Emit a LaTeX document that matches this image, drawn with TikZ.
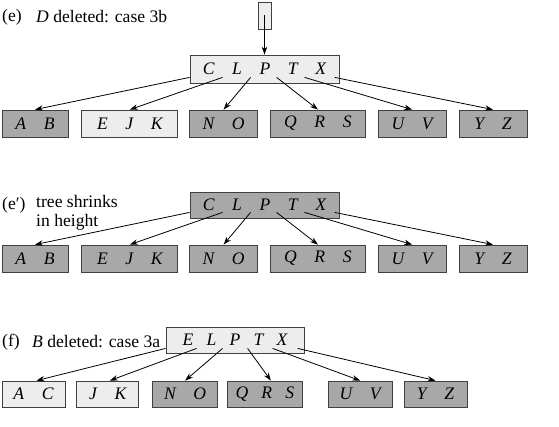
\documentclass[tikz,border=0pt]{standalone}
\usepackage{fontspec}
\setmainfont{Liberation Serif}
\usetikzlibrary{positioning, arrows.meta}
\colorlet{lightkey}{black!7}
\colorlet{darkkey}{black!34}
\tikzset{
  keybox/.style={rectangle, draw=black!75, line width=0.8pt, inner sep=0pt, minimum height=27pt, font=\fontsize{17.6}{19}\selectfont\itshape},
  light/.style={keybox, fill=lightkey},
  dark/.style={keybox, fill=darkkey},
  caption/.style={anchor=west, inner sep=0pt, font=\fontsize{17.6}{19}\selectfont},
  arrow/.style={line width=0.8pt, -{Stealth[length=8pt, width=5.5pt]}}
}

\begin{document}
\begin{tikzpicture}[x=1pt, y=1pt]
\useasboundingbox (0,0) rectangle (559,426);

% (e) D deleted: case 3b
\node (labe) [caption] at (2,409) {(e)};
\node (labetxt) [caption] at (36,409) {\textit{D} deleted: case 3b};
\node (top) [light, minimum width=13pt] at (264.5,410.5) {};
\node (roote) [light, minimum width=149pt, minimum height=28pt] at (264.5,357) {C\quad L\quad P\quad T\quad X};
\node (eab) [dark, minimum width=66pt] at (35,302.5) {A\quad B};
\node (eejk) [light, minimum width=96pt, right=13pt of eab] {E\quad J\quad K};
\node (eno) [dark, minimum width=68pt, right=11pt of eejk] {N\quad O};
\node (eqrs) [dark, minimum width=95pt, right=12pt of eno] {Q\quad R\quad S};
\node (euv) [dark, minimum width=68pt, right=12pt of eqrs] {U\quad V};
\node (eyz) [dark, minimum width=68pt, right=12pt of euv] {Y\quad Z};

\foreach \i/\dx in {1/0, 2/33, 3/61, 4/87, 5/115, 6/145}
  \coordinate (e\i) at ([xshift=\dx pt, yshift=6pt]roote.south west);

\draw [arrow] (top.center) -- (roote);
\draw [arrow] (e1) -- (eab.north);
\draw [arrow] (e2) -- (eejk.north);
\draw [arrow] (e3) -- (eno.north);
\draw [arrow] (e4) -- (eqrs.north);
\draw [arrow] (e5) -- (euv.north);
\draw [arrow] (e6) -- (eyz.north);

% (e') tree shrinks in height
\node (labep) [caption] at (2,221) {(e′)};
\node (labeptxt) [caption, anchor=north west, align=left] at (36,231) {tree shrinks\\in height};
\node (rootep) [dark, minimum width=149pt, minimum height=26pt] at (264.5,221) {C\quad L\quad P\quad T\quad X};
\node (pab) [dark, minimum width=66pt] at (35,167.5) {A\quad B};
\node (pejk) [dark, minimum width=96pt, right=13pt of pab] {E\quad J\quad K};
\node (pno) [dark, minimum width=68pt, right=11pt of pejk] {N\quad O};
\node (pqrs) [dark, minimum width=95pt, right=12pt of pno] {Q\quad R\quad S};
\node (puv) [dark, minimum width=68pt, right=12pt of pqrs] {U\quad V};
\node (pyz) [dark, minimum width=68pt, right=12pt of puv] {Y\quad Z};

\foreach \i/\dx in {1/0, 2/33, 3/61, 4/87, 5/115, 6/145}
  \coordinate (p\i) at ([xshift=\dx pt, yshift=6pt]rootep.south west);

\draw [arrow] (p1) -- (pab.north);
\draw [arrow] (p2) -- (pejk.north);
\draw [arrow] (p3) -- (pno.north);
\draw [arrow] (p4) -- (pqrs.north);
\draw [arrow] (p5) -- (puv.north);
\draw [arrow] (p6) -- (pyz.north);

% (f) B deleted: case 3a
\node (labf) [caption] at (2,84) {(f)};
\node (labftxt) [caption] at (32,84) {\textit{B} deleted: case 3a};
\node (rootf) [light, minimum width=138pt, minimum height=26pt] at (235,86) {E\enspace\ L\enspace\ P\enspace\ T\enspace\ X};
\node (fac) [light, minimum width=63pt, minimum height=26pt] at (33.5,32) {A\quad C};
\node (fjk) [light, minimum width=62pt, minimum height=26pt, right=11pt of fac] {J\quad K};
\node (fno) [dark, minimum width=65pt, minimum height=26pt, right=13pt of fjk] {N\quad O};
\node (fqrs) [dark, minimum width=75pt, minimum height=26pt, right=9pt of fno] {Q\enspace\ R\enspace\ S};
\node (fuv) [dark, minimum width=64pt, minimum height=26pt, right=25pt of fqrs] {U\quad V};
\node (fyz) [dark, minimum width=63pt, minimum height=26pt, right=11pt of fuv] {Y\quad Z};

\foreach \i/\dx in {1/0, 2/31, 3/57, 4/82, 5/107, 6/132}
  \coordinate (f\i) at ([xshift=\dx pt, yshift=5pt]rootf.south west);

\draw [arrow] (f1) -- ([xshift=3pt]fac.north);
\draw [arrow] (f2) -- ([xshift=2pt]fjk.north);
\draw [arrow] (f3) -- (fno.north);
\draw [arrow] (f4) -- ([xshift=6pt]fqrs.north);
\draw [arrow] (f5) -- (fuv.north);
\draw [arrow] (f6) -- (fyz.north);
\end{tikzpicture}
\end{document}
